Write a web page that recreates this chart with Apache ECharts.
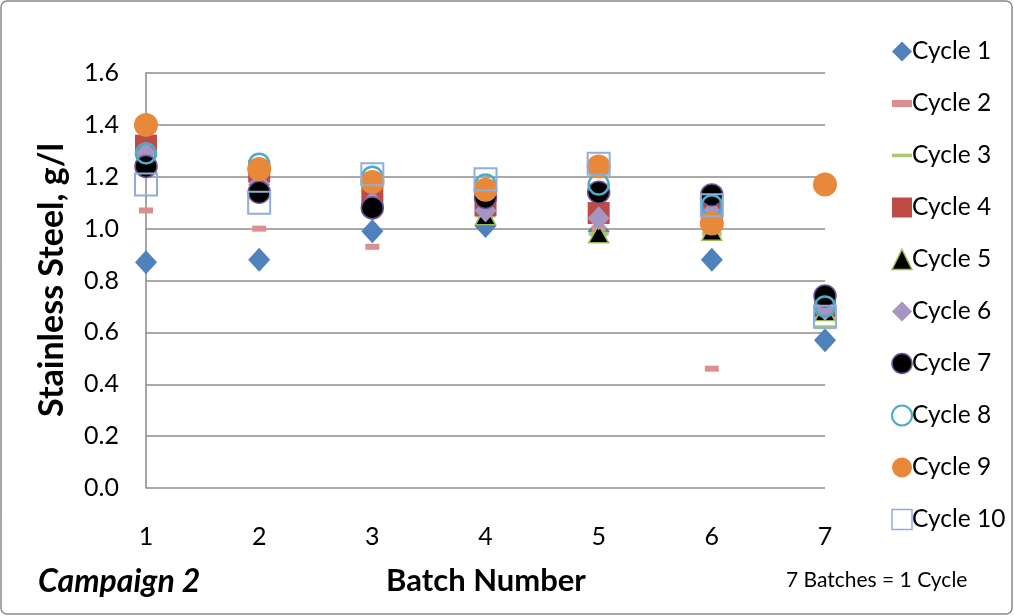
<!DOCTYPE html>
<html>
<head>
<meta charset="utf-8">
<script src="https://cdn.jsdelivr.net/npm/echarts@6/dist/echarts.min.js"></script>
<style>html,body{margin:0;padding:0;background:#fff}#c{width:1014px;height:616px}</style>
</head>
<body>
<div id="c"></div>
<script>
const batches = [1, 2, 3, 4, 5, 6, 7];
const yTicks = [0, 0.2, 0.4, 0.6, 0.8, 1.0, 1.2, 1.4, 1.6];
const cycle1 = [0.87, 0.88, 0.99, 1.01, 0.99, 0.88, 0.57];
const cycle2 = [1.07, 1.00, 0.93, 1.04, 1.00, 0.46, 0.68];
const cycle3 = [1.23, 1.18, 1.15, 1.05, 0.98, 0.98, 0.62];
const cycle4 = [1.32, 1.22, 1.12, 1.09, 1.06, 1.08, 0.70];
const cycle5 = [1.25, 1.17, 1.10, 1.05, 0.98, 0.99, 0.68];
const cycle6 = [1.29, 1.17, 1.10, 1.07, 1.04, 1.06, 0.69];
const cycle7 = [1.24, 1.14, 1.08, 1.12, 1.14, 1.13, 0.74];
const cycle8 = [1.29, 1.25, 1.20, 1.17, 1.17, 1.09, 0.70];
const cycle9 = [1.40, 1.23, 1.18, 1.15, 1.24, 1.02, 1.17];
const cycle10 = [1.17, 1.10, 1.21, 1.19, 1.25, 1.09, 0.66];

const FONT = 'Lato';
function pts(arr) { return batches.map((b, i) => [b, arr[i]]); }

const defs = [
  { name: 'Cycle 1', data: cycle1, symbol: 'diamond', size: [22, 24], style: { color: '#4f81bd', opacity: 1 }, icon: 'diamond' },
  { name: 'Cycle 2', data: cycle2, symbol: 'rect', size: [14, 6], style: { color: '#dc8f90', opacity: 1 }, icon: 'path://M0,0L14,0L14,5L0,5Z' },
  { name: 'Cycle 3', data: cycle3, symbol: 'rect', size: [20, 4], style: { color: '#a9c977', opacity: 1 }, icon: 'path://M0,0L28,0L28,5L0,5Z' },
  { name: 'Cycle 4', data: cycle4, symbol: 'rect', size: [22, 22], style: { color: '#be4b48', opacity: 1 }, icon: 'rect' },
  { name: 'Cycle 5', data: cycle5, symbol: 'triangle', size: [20, 18], style: { color: '#000', borderColor: '#9bbb59', borderWidth: 1.5, opacity: 1 }, icon: 'triangle' },
  { name: 'Cycle 6', data: cycle6, symbol: 'diamond', size: [22, 24], style: { color: '#a495c2', opacity: 1 }, icon: 'diamond' },
  { name: 'Cycle 7', data: cycle7, symbol: 'circle', size: 22, style: { color: '#000', borderColor: '#6f5596', borderWidth: 1.5, opacity: 1 }, icon: 'circle' },
  { name: 'Cycle 8', data: cycle8, symbol: 'circle', size: 20, style: { color: 'rgba(0,0,0,0)', borderColor: '#4bacc6', borderWidth: 2.5, opacity: 1 }, icon: 'circle' },
  { name: 'Cycle 9', data: cycle9, symbol: 'circle', size: 24, style: { color: '#e8883a', opacity: 1 }, icon: 'circle' },
  { name: 'Cycle 10', data: cycle10, symbol: 'rect', size: 22, style: { color: 'rgba(0,0,0,0)', borderColor: '#8eaedb', borderWidth: 2, opacity: 1 }, icon: 'rect' }
];

const legendIconStyle = {
  'Cycle 7': { color: '#000', borderColor: '#6f5596', borderWidth: 1.5, opacity: 1 },
  'Cycle 8': { color: '#fff', borderColor: '#4bacc6', borderWidth: 2, opacity: 1 },
  'Cycle 10': { color: '#fff', borderColor: '#8eaedb', borderWidth: 1.5, opacity: 1 },
  'Cycle 5': { color: '#000', borderColor: '#9bbb59', borderWidth: 1.5, opacity: 1 }
};

const chart = echarts.init(document.getElementById('c'), null, { renderer: 'canvas' });
chart.setOption({
  animation: false,
  backgroundColor: '#fff',
  grid: { left: 146, top: 73, width: 679, height: 415, containLabel: false },
  xAxis: {
    type: 'value', min: 1, max: 7, interval: 1,
    axisLine: { show: false },
    axisTick: { show: false },
    splitLine: { show: false },
    axisLabel: { color: '#000', fontFamily: FONT, fontSize: 25, margin: 36 }
  },
  yAxis: {
    type: 'value', min: 0, max: 1.6, interval: 0.2,
    axisLine: { show: true, lineStyle: { color: '#888', width: 1.5 } },
    axisTick: { show: false },
    splitLine: { show: true, lineStyle: { color: '#8c8c8c', width: 1.5 } },
    axisLabel: { color: '#000', fontFamily: FONT, fontSize: 25, margin: 27,
      formatter: v => yTicks.includes(+v.toFixed(1)) ? v.toFixed(1) : '' }
  },
  legend: {
    orient: 'vertical', left: 886, top: 34,
    itemWidth: 20, itemHeight: 20, itemGap: 27,
    textStyle: { fontFamily: FONT, fontSize: 24.5, color: '#000', padding: [0, 0, 0, -5] },
    data: defs.map(d => ({ name: d.name, icon: d.icon, itemStyle: legendIconStyle[d.name] || d.style }))
  },
  series: defs.map((d, i) => ({
    type: 'scatter', name: d.name, data: pts(d.data),
    symbol: d.symbol, symbolSize: d.size, itemStyle: d.style, z: 2 + i,
    emphasis: { disabled: true }
  })),
  graphic: [
    { type: 'rect', shape: { x: 1, y: 1, width: 1011, height: 613, r: 6 }, style: { fill: 'none', stroke: '#8a8a8a', lineWidth: 1.5 }, silent: true },
    { type: 'text', x: 52, y: 280, rotation: Math.PI / 2, style: { text: 'Stainless Steel, g/l', font: 'bold 34px ' + FONT, fill: '#000', textAlign: 'center', textVerticalAlign: 'middle' } },
    { type: 'text', x: 486, y: 581, style: { text: 'Batch Number', font: 'bold 31px ' + FONT, fill: '#000', textAlign: 'center', textVerticalAlign: 'middle' } },
    { type: 'text', x: 38, y: 582, style: { text: 'Campaign 2', font: 'italic bold 32px ' + FONT, fill: '#000', textAlign: 'left', textVerticalAlign: 'middle' } },
    { type: 'text', x: 786, y: 580, style: { text: '7 Batches = 1 Cycle', font: '21px ' + FONT, fill: '#000', textAlign: 'left', textVerticalAlign: 'middle' } }
  ]
});
</script>
</body>
</html>
